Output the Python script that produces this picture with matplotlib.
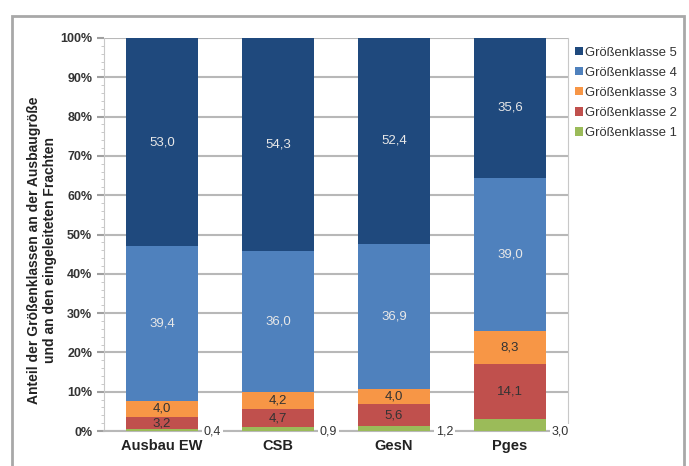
import matplotlib.pyplot as plt
import numpy as np
from matplotlib.patches import Rectangle

# data (percent)
categories = ["Ausbau EW", "CSB", "GesN", "Pges"]
klasse1 = [0.4, 0.9, 1.2, 3.0]
klasse2 = [3.2, 4.7, 5.6, 14.1]
klasse3 = [4.0, 4.2, 4.0, 8.3]
klasse4 = [39.4, 36.0, 36.9, 39.0]
klasse5 = [53.0, 54.3, 52.4, 35.6]
series_names = ["Größenklasse 1", "Größenklasse 2", "Größenklasse 3",
                "Größenklasse 4", "Größenklasse 5"]
colors = ["#9BBB59", "#C0504D", "#F79646", "#4F81BD", "#1F497D"]
text_colors = [None, "#333333", "#333333", "#E8E8E8", "#E8E8E8"]

plt.rcParams['font.family'] = ['Liberation Sans', 'DejaVu Sans']

fig = plt.figure(figsize=(6.89, 4.66), dpi=100)
# outer frame
fig.patches.append(Rectangle((12 / 689, -0.05), 672 / 689, 1.05 - 16 / 466,
                             transform=fig.transFigure, fill=False,
                             edgecolor="#A8A8A8", linewidth=2))
ax = fig.add_axes([104 / 689, 1 - 431 / 466, 464 / 689, 393 / 466])

x = np.arange(len(categories))
data = [klasse1, klasse2, klasse3, klasse4, klasse5]
bottom = np.zeros(len(categories))
handles = []
for vals, name, col, tcol in zip(data, series_names, colors, text_colors):
    vals = np.array(vals)
    h = ax.bar(x, vals, 0.62, bottom=bottom, color=col, label=name, zorder=3)
    handles.append(h)
    for xi, b, v in zip(x, bottom, vals):
        lab = f"{v:.1f}".replace(".", ",")
        if tcol is None:
            ax.text(xi + 0.36, 0, lab, ha="left", va="center", fontsize=9,
                    color="#333333", zorder=4,
                    bbox=dict(facecolor="white", edgecolor="none", pad=1))
        else:
            ax.text(xi, b + v / 2, lab, ha="center", va="center",
                    fontsize=9.5, color=tcol, zorder=4)
    bottom += vals

ax.set_xlim(-0.5, 3.5)
ax.set_ylim(0, 100)
ax.set_yticks(np.arange(0, 101, 10))
ax.set_yticklabels([f"{v}%" for v in range(0, 101, 10)], fontsize=9,
                   fontweight="bold", color="#333333")
ax.set_yticks(np.arange(0, 101, 2), minor=True)
ax.set_xticks(x)
ax.set_xticklabels(categories, fontsize=10.5, fontweight="bold", color="#222222")
ax.tick_params(axis="x", length=0, pad=6)
ax.tick_params(axis="y", which="major", length=5, color="#A0A0A0", width=1.5)
ax.tick_params(axis="y", which="minor", length=2, color="#C0C0C0")
ax.grid(axis="y", color="#B8B8B8", linewidth=1.5, zorder=0)
ax.spines["top"].set_visible(False)
ax.spines["bottom"].set_color("#B8B8B8")
ax.spines["bottom"].set_linewidth(1.5)
ax.spines["left"].set_color("#C8C8C8")
ax.spines["right"].set_color("#C8C8C8")

ax.set_ylabel("Anteil der Größenklassen an der Ausbaugröße\nund an den eingeleiteten Frachten",
              fontsize=10, fontweight="bold", color="#222222")
ax.yaxis.set_label_coords(-0.101, 0.46)

leg = fig.legend(handles[::-1], series_names[::-1], loc="upper left",
                 bbox_to_anchor=(563 / 689, 1 - 35 / 466), frameon=False,
                 fontsize=9.4, handlelength=0.6, handleheight=0.6,
                 handletextpad=0.2, labelspacing=0.62)
for t in leg.get_texts():
    t.set_color("#333333")

plt.savefig("out.png", dpi=100)
